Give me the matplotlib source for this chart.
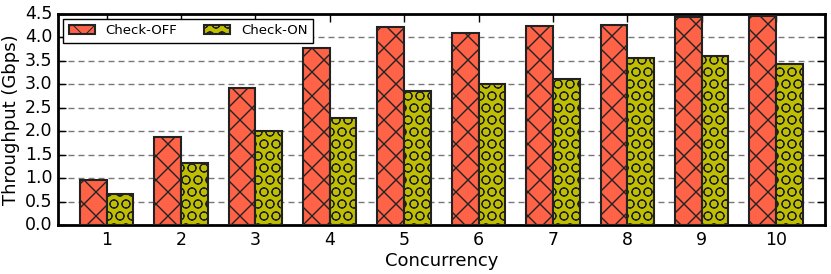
import numpy as np
import matplotlib
matplotlib.use("Agg")
import matplotlib.pyplot as plt

concurrency = [1, 2, 3, 4, 5, 6, 7, 8, 9, 10]
check_off = [0.97, 1.88, 2.91, 3.77, 4.22, 4.10, 4.23, 4.27, 4.43, 4.45]
check_on = [0.67, 1.33, 2.01, 2.28, 2.86, 3.00, 3.11, 3.55, 3.60, 3.42]

# rendered at 72 dpi so the hatch spacing matches; sizes scaled by k
DPI = 72
k = 100.0 / DPI

plt.style.use('classic')

fig = plt.figure(figsize=(831 / DPI, 274 / DPI), dpi=DPI)
ax = fig.add_axes([0.07, 0.178, 0.923, 0.772])

x = np.array(concurrency)
w = 0.36
plt.rcParams['hatch.linewidth'] = 1.0 * k
ax.bar(x - w, check_off, w, align='edge', color='#FF6347', edgecolor='#222222',
       hatch='x', linewidth=1.5 * k, label='Check-OFF', zorder=3)
plt.rcParams['hatch.linewidth'] = 1.0
ax.bar(x, check_on, w, align='edge', color='#BFBF00', edgecolor='#222222',
       hatch='O', linewidth=1.5 * k, label='Check-ON', zorder=3)

ax.set_xlim(0.35, 10.66)
ax.set_ylim(0, 4.5)
ax.set_xticks(concurrency)
ax.set_yticks(np.arange(0, 4.51, 0.5))
ax.yaxis.grid(True, linestyle=(0, (6, 4)), color='#777777', linewidth=1.0 * k, zorder=0)
ax.set_axisbelow(True)
ax.tick_params(labelsize=12.5 * k, direction='in', length=6 * k, width=1.0 * k, pad=4 * k)
for s in ax.spines.values():
    s.set_linewidth(2 * k)
ax.set_xlabel('Concurrency', fontsize=13 * k, labelpad=2 * k)
ax.set_ylabel('Throughput (Gbps)', fontsize=13 * k, labelpad=4 * k)
leg = ax.legend(loc='upper left', ncol=2, fontsize=9.5 * k, framealpha=1, fancybox=False,
                handlelength=2.0, columnspacing=2.0, borderaxespad=0.4)
leg.get_frame().set_linewidth(1.0 * k)

fig.savefig('out.png', dpi=DPI)
